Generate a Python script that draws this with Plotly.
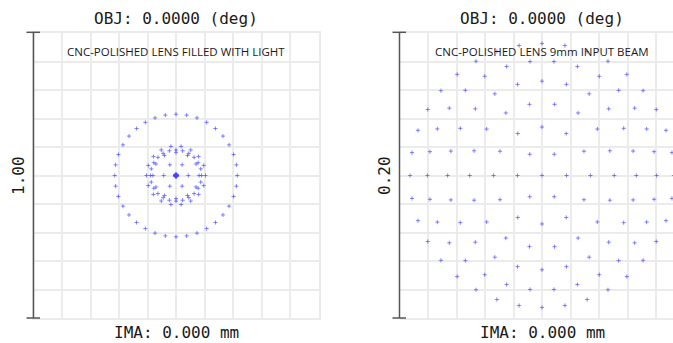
import numpy as np
import plotly.graph_objects as go

# ---- data (hexapolar spot rings) ----
# left panel: scale 1.00, rings (pupil ring index 0..6) -> image radius
left_ring_radius = [0.0, 0.0432, 0.0811, 0.1035, 0.0898, 0.0027, -0.2151]
left_ring_points = [1, 6, 12, 18, 24, 30, 36]
# right panel: scale 0.20
right_ring_radius = [0.0, 0.0172, 0.0340, 0.0507, 0.0662, 0.0804, 0.0926]
right_ring_points = [1, 6, 12, 18, 24, 30, 36]

left_scale = 1.00
right_scale = 0.20
left_title = "OBJ: 0.0000 (deg)"
right_title = "OBJ: 0.0000 (deg)"
left_bottom = "IMA: 0.000 mm"
right_bottom = "IMA: 0.000 mm"
left_note = "CNC-POLISHED LENS FILLED WITH LIGHT"
right_note = "CNC-POLISHED LENS 9mm INPUT BEAM"


def spots(radii, counts):
    xs, ys = [], []
    for r, n in zip(radii, counts):
        ang = np.arange(n) * 2 * np.pi / n
        xs.extend(r * np.cos(ang))
        ys.extend(r * np.sin(ang))
    return xs, ys


W, H = 673, 343
# pixel geometry
L0, L1 = 33.5, 318.5
R0 = 399.5
T, B = 33.0, 318.0
side = L1 - L0

fig = go.Figure()
marker = dict(symbol="cross-thin", size=3, line=dict(width=1, color="rgba(70,70,255,0.65)"),
              color="rgba(70,70,255,0.65)")

lx, ly = spots(left_ring_radius, left_ring_points)
rx, ry = spots(right_ring_radius, right_ring_points)
fig.add_trace(go.Scatter(x=lx, y=ly, mode="markers", marker=marker, xaxis="x", yaxis="y",
                         showlegend=False, hoverinfo="skip"))
fig.add_trace(go.Scatter(x=rx, y=ry, mode="markers", marker=marker, xaxis="x2", yaxis="y2",
                         showlegend=False, hoverinfo="skip"))

grid = "#ebebeb"
ydom = [(H - B) / H, (H - T) / H]
common = dict(showticklabels=False, ticks="", zeroline=False, showgrid=True,
              gridcolor=grid, gridwidth=1.5, fixedrange=True)
right_visible = (W - R0) / side * right_scale

fig.update_layout(
    width=W, height=H, margin=dict(l=0, r=0, t=0, b=0),
    paper_bgcolor="white", plot_bgcolor="white",
    xaxis=dict(domain=[L0 / W, L1 / W], range=[-left_scale / 2, left_scale / 2],
               dtick=left_scale / 10, tick0=0, showline=True, mirror=True,
               linecolor=grid, linewidth=1.5, **common),
    yaxis=dict(domain=ydom, range=[-left_scale / 2, left_scale / 2],
               dtick=left_scale / 10, tick0=0, showline=True, mirror=True,
               linecolor=grid, linewidth=1.5, **common),
    xaxis2=dict(domain=[R0 / W, 1.0], range=[-right_scale / 2, -right_scale / 2 + right_visible],
                dtick=right_scale / 10, tick0=0, showline=True, mirror=True,
                linecolor=grid, linewidth=1.5, anchor="y2", **common),
    yaxis2=dict(domain=ydom, range=[-right_scale / 2, right_scale / 2],
                dtick=right_scale / 10, tick0=0, showline=False, anchor="x2", **common),
)

mono = dict(family="DejaVu Sans Mono", size=16, color="#1a1a1a")
sans = dict(family="Open Sans", size=11.5, color="#1a1a1a")


def px(x):
    return x / W


def py(y):
    return (H - y) / H


ann = []
for cx, title, bottom, note, scale, barx in [
    ((L0 + L1) / 2, left_title, left_bottom, left_note, left_scale, L0),
    (R0 + side / 2, right_title, right_bottom, right_note, right_scale, R0),
]:
    ann.append(dict(x=px(cx), y=py(18), xref="paper", yref="paper", text=title,
                    showarrow=False, font=mono, xanchor="center", yanchor="middle"))
    ann.append(dict(x=px(cx), y=py(332), xref="paper", yref="paper", text=bottom,
                    showarrow=False, font=mono, xanchor="center", yanchor="middle"))
    ann.append(dict(x=px(cx), y=py(51), xref="paper", yref="paper", text=note,
                    showarrow=False, font=sans, xanchor="center", yanchor="middle"))
    ann.append(dict(x=px(barx - 15), y=py((T + B) / 2), xref="paper", yref="paper",
                    text=f"{scale:.2f}", textangle=-90, showarrow=False, font=mono,
                    xanchor="center", yanchor="middle"))
fig.update_layout(annotations=ann)

shapes = []
bar = dict(color="#555555", width=1.5)
for barx in (L0, R0):
    shapes.append(dict(type="line", xref="paper", yref="paper", x0=px(barx), x1=px(barx),
                       y0=py(T - 0.7), y1=py(B), line=bar, layer="above"))
    for yy in (T - 0.7, B):
        shapes.append(dict(type="line", xref="paper", yref="paper", x0=px(barx - 7), x1=px(barx + 6.5),
                           y0=py(yy), y1=py(yy), line=bar, layer="above"))
fig.update_layout(shapes=shapes)

fig.write_html("out.html")
